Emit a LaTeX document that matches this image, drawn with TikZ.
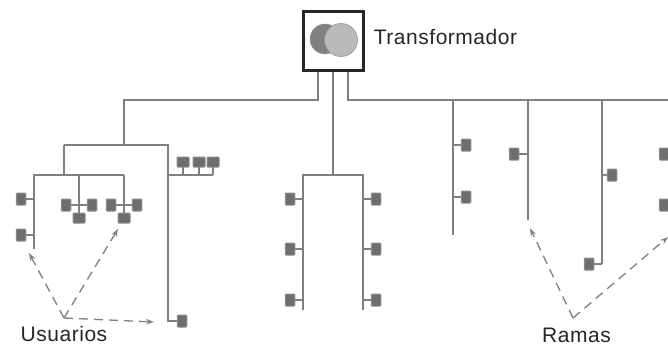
\documentclass[tikz,border=0pt]{standalone}
\usepackage{fontspec}
\setmainfont{Liberation Sans}[LetterSpace=2.5]
\usetikzlibrary{arrows.meta}
\definecolor{ln}{HTML}{808080}
\definecolor{usrfill}{HTML}{6E6E6E}
\definecolor{usredge}{HTML}{8C8C8C}
\tikzset{
  trunk/.style={draw=ln,line width=1.9pt,line join=miter},
  wire/.style={draw=ln,line width=1.4pt},
  usr/.style={draw=usredge,fill=usrfill,line width=1pt,rounded corners=0.8pt,minimum width=9.5pt,minimum height=12pt,inner sep=0pt,outer sep=0pt},
  usrw/.style={usr,minimum width=12pt,minimum height=10pt},
  lbl/.style={inner sep=0pt,font=\fontsize{21}{24}\selectfont,text=black!85,anchor=center},
  dsh/.style={draw=black!50,line width=1.3pt,dash pattern=on 9pt off 6pt,-{Stealth[length=8pt,width=5.5pt]}}
}
\begin{document}
\begin{tikzpicture}[x=1pt,y=-1pt]
\useasboundingbox (0,0) rectangle (668,345);
% transformer
\node[draw=black!85,fill=white,line width=3.2pt,minimum width=60pt,minimum height=59pt,inner sep=0pt,outer sep=1.6pt] (tr) at (333.5,41) {};
\node[circle,fill=black!50,draw=black!40,line width=.5pt,minimum size=30pt,inner sep=0pt] (c1) at (325,39) {};
\node[circle,fill=black!27,draw=black!40,line width=.7pt,minimum size=33pt,inner sep=0pt] (c2) at (341,40) {};
\node[lbl] (tl) at (445.5,37) {Transformador};
% free ends and junctions
\coordinate (j1) at (124,145);
\coordinate (j2) at (124,175);
\coordinate (l1) at (64,145);
\coordinate (r1) at (168,145);
\coordinate (l2) at (64,175);
\coordinate (a1) at (34,175);
\coordinate (a2) at (34,249);
\coordinate (a3) at (79,175);
\coordinate (a4) at (79,205);
\coordinate (a5) at (124,205);
\coordinate (r2) at (168,322);
\coordinate (r3) at (168,175);
% main lines
\draw[trunk] (318,72) |- (124,100) -- (j1);
\draw[trunk] (333,72) -- (333,175);
\draw[trunk] (348,72) |- (668,100);
% left group
\draw[wire,line width=1.7pt] (l1) -- (l2);
\draw[wire,line width=1.7pt] (l1) -- (r1) -- (r2);
\draw[wire,line width=1.7pt] (a2) -- (a1) -- (j2);
\draw[wire] (a3) -- (a4);
\draw[wire] (j2) -- (a5);
\node[usr] (u1) at (21,199) {};
\node[usr] (u2) at (21,235) {};
\draw[wire] (u1) -- (a1 |- u1);
\draw[wire] (u2) -- (a1 |- u2);
\node[usr] (u3) at (66,205) {};
\node[usr] (u4) at (92,205) {};
\node[usrw] (u5) at (79,218) {};
\draw[wire] (u3) -- (u4);
\draw[wire] (a4) -- (u5);
\node[usr] (u6) at (111,205) {};
\node[usr] (u7) at (137,205) {};
\node[usrw] (u8) at (124,218) {};
\draw[wire] (u6) -- (u7);
\draw[wire] (a5) -- (u8);
\node[usrw] (u9) at (183,162) {};
\node[usrw] (u10) at (199,162) {};
\node[usrw] (u11) at (213,162) {};
\coordinate (b3) at (213,175);
\draw[wire] (r3) -- (b3);
\draw[wire] (u9) -- (u9 |- b3);
\draw[wire] (u10) -- (u10 |- b3);
\draw[wire] (u11) -- (b3);
\node[usr] (u12) at (182,321) {};
\draw[wire] (u12) -- (r1 |- u12);
% centre group
\coordinate (c3) at (303,175);
\coordinate (c4) at (363,175);
\coordinate (c5) at (303,310);
\coordinate (c6) at (363,310);
\draw[wire,line width=1.8pt] (c5) -- (c3) -- (c4) -- (c6);
\foreach \n/\y in {a/199,b/249,c/300}{
  \node[usr] (cl\n) at (290,\y) {};
  \node[usr] (cr\n) at (376,\y) {};
  \draw[wire] (cl\n) -- (c3 |- cl\n);
  \draw[wire] (cr\n) -- (c4 |- cr\n);
}
% right group
\coordinate (d1) at (453,100);
\coordinate (d2) at (453,235);
\coordinate (e1) at (528,100);
\coordinate (e2) at (528,220);
\coordinate (f1) at (602,100);
\coordinate (f2) at (602,264);
\draw[wire] (d1) -- (d2);
\draw[wire] (e1) -- (e2);
\draw[wire] (f1) -- (f2);
\node[usr] (v1) at (466,145) {};
\node[usr] (v2) at (466,197) {};
\draw[wire] (v1) -- (d1 |- v1);
\draw[wire] (v2) -- (d1 |- v2);
\node[usr] (v3) at (514,154) {};
\draw[wire] (v3) -- (e1 |- v3);
\node[usr] (v4) at (612,175) {};
\draw[wire] (v4) -- (f1 |- v4);
\node[usr] (v5) at (589,264) {};
\draw[wire] (v5) -- (f2);
\node[usr] (v6) at (664,154) {};
\node[usr] (v7) at (664,205) {};
% labels and dashed arrows
\node[lbl] (us) at (64,334) {Usuarios};
\node[lbl] (ra) at (576.5,335) {Ramas};
\coordinate (o1) at (64,318);
\coordinate (o2) at (573,318);
\coordinate (t1) at (29,253);
\coordinate (t2) at (118,229);
\coordinate (t3) at (154,322);
\coordinate (t4) at (530,228);
\coordinate (t5) at (668,237);
\draw[dsh] (o1) -- (t1);
\draw[dsh] (o1) -- (t2);
\draw[dsh] (o1) -- (t3);
\draw[dsh] (o2) -- (t4);
\draw[dsh] (o2) -- (t5);
\end{tikzpicture}
\end{document}
